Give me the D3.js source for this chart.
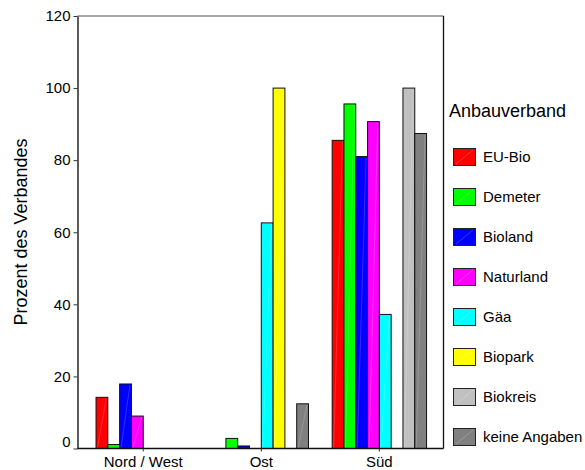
<!DOCTYPE html>
<html><head><meta charset="utf-8">
<script src="https://cdn.jsdelivr.net/npm/d3@7"></script>
<style>body{margin:0;background:#fff} text{font-family:Arial,"Liberation Sans",sans-serif;fill:#000}</style>
</head><body><svg id="c" width="585" height="470"></svg>
<script>
const categories = ["Nord / West", "Ost", "Süd"];
const seriesNames = ["EU-Bio", "Demeter", "Bioland", "Naturland", "Gäa", "Biopark", "Biokreis", "keine Angaben"];
const euBio = [14.2, 0, 85.5];
const demeter = [1.1, 2.8, 95.6];
const bioland = [17.9, 0.7, 81.0];
const naturland = [9.0, 0, 90.7];
const gaea = [0, 62.6, 37.2];
const biopark = [0, 100, 0];
const biokreis = [0, 0, 100];
const keineAngaben = [0, 12.4, 87.4];
const yTicks = [0, 20, 40, 60, 80, 100, 120];
const colors = ["#ff0000", "#00ff00", "#0000ff", "#ff00ff", "#00ffff", "#ffff00", "#c0c0c0", "#808080"];

const seriesValues = [euBio, demeter, bioland, naturland, gaea, biopark, biokreis, keineAngaben];
const svg = d3.select("#c");
const L = 77.5, R = 443.5, T = 16, B = 448.5;

const y = d3.scaleLinear().domain([0, 120]).range([B, T]);
const x = d3.scaleBand().domain(categories).range([L + 0.8, R + 0.8]).paddingInner(0).paddingOuter(0.05);
const groupW = 94.4;
const xs = d3.scaleBand().domain(seriesNames).range([-groupW / 2, groupW / 2]).padding(0);

// bars
const data = [];
seriesNames.forEach((s, si) => {
  categories.forEach((c, ci) => data.push({ s, c, v: seriesValues[si][ci], color: colors[si] }));
});
const bars = svg.append("g");
data.forEach(d => {
  const x0 = x(d.c) + x.bandwidth() / 2 + xs(d.s);
  const w = xs.bandwidth();
  const y0 = y(d.v);
  const h = B - y0;
  bars.append("rect").attr("x", x0).attr("y", y0).attr("width", w).attr("height", h)
    .attr("fill", d.color).attr("stroke", "#111").attr("stroke-width", 1);
  if (h > 4) {
    bars.append("line").attr("x1", x0 + 1.5).attr("y1", B - 1).attr("x2", x0 + w - 1.5).attr("y2", y0 + 1)
      .attr("stroke", "#fff").attr("stroke-opacity", 0.25).attr("stroke-width", 0.7);
  }
});

// frame
svg.append("line").attr("x1", L).attr("x2", R).attr("y1", T).attr("y2", T).attr("stroke", "#888").attr("stroke-width", 1.5);
svg.append("line").attr("x1", R).attr("x2", R).attr("y1", T).attr("y2", B).attr("stroke", "#111").attr("stroke-width", 1.3);

// y axis
const ya = svg.append("g").attr("transform", `translate(${L},0)`)
  .call(d3.axisLeft(y).tickValues(yTicks).tickSize(4).tickSizeOuter(0).tickPadding(3));
ya.select(".domain").attr("stroke", "#333").attr("stroke-width", 1.6);
ya.selectAll(".tick line").attr("stroke", "#333");
ya.selectAll(".tick text").attr("font-size", 15).attr("font-family", "Arial, 'Liberation Sans', sans-serif").attr("fill", "#000");
ya.selectAll(".tick text").filter(d => d === 0).attr("dy", "-0.15em");

// x axis
const xa = svg.append("g").attr("transform", `translate(0,${B})`)
  .call(d3.axisBottom(x).tickSize(3).tickSizeOuter(0).tickPadding(5));
xa.select(".domain").attr("stroke", "#111").attr("stroke-width", 1.3).attr("d", `M${L},0H${R}`);
xa.selectAll(".tick line").attr("stroke", "#333");
xa.selectAll(".tick text").attr("font-size", 15).attr("font-family", "Arial, 'Liberation Sans', sans-serif").attr("fill", "#000");

// y title
svg.append("text").attr("transform", "translate(27,232) rotate(-90)").attr("text-anchor", "middle")
  .attr("font-size", 18).text("Prozent des Verbandes");

// legend
svg.append("text").attr("x", 449).attr("y", 117).attr("font-size", 18).text("Anbauverband");
const lg = svg.append("g");
seriesNames.forEach((s, i) => {
  const yy = 148 + 40 * i;
  lg.append("rect").attr("x", 453.5).attr("y", yy + 0.5).attr("width", 22).attr("height", 17)
    .attr("fill", colors[i]).attr("stroke", "#222").attr("stroke-width", 1);
  lg.append("line").attr("x1", 456).attr("y1", yy + 16).attr("x2", 473).attr("y2", yy + 2)
    .attr("stroke", "#fff").attr("stroke-opacity", 0.3).attr("stroke-width", 0.7);
  lg.append("text").attr("x", 483).attr("y", yy + 9).attr("dy", "0.35em").attr("font-size", 15).text(s);
});
</script></body></html>
